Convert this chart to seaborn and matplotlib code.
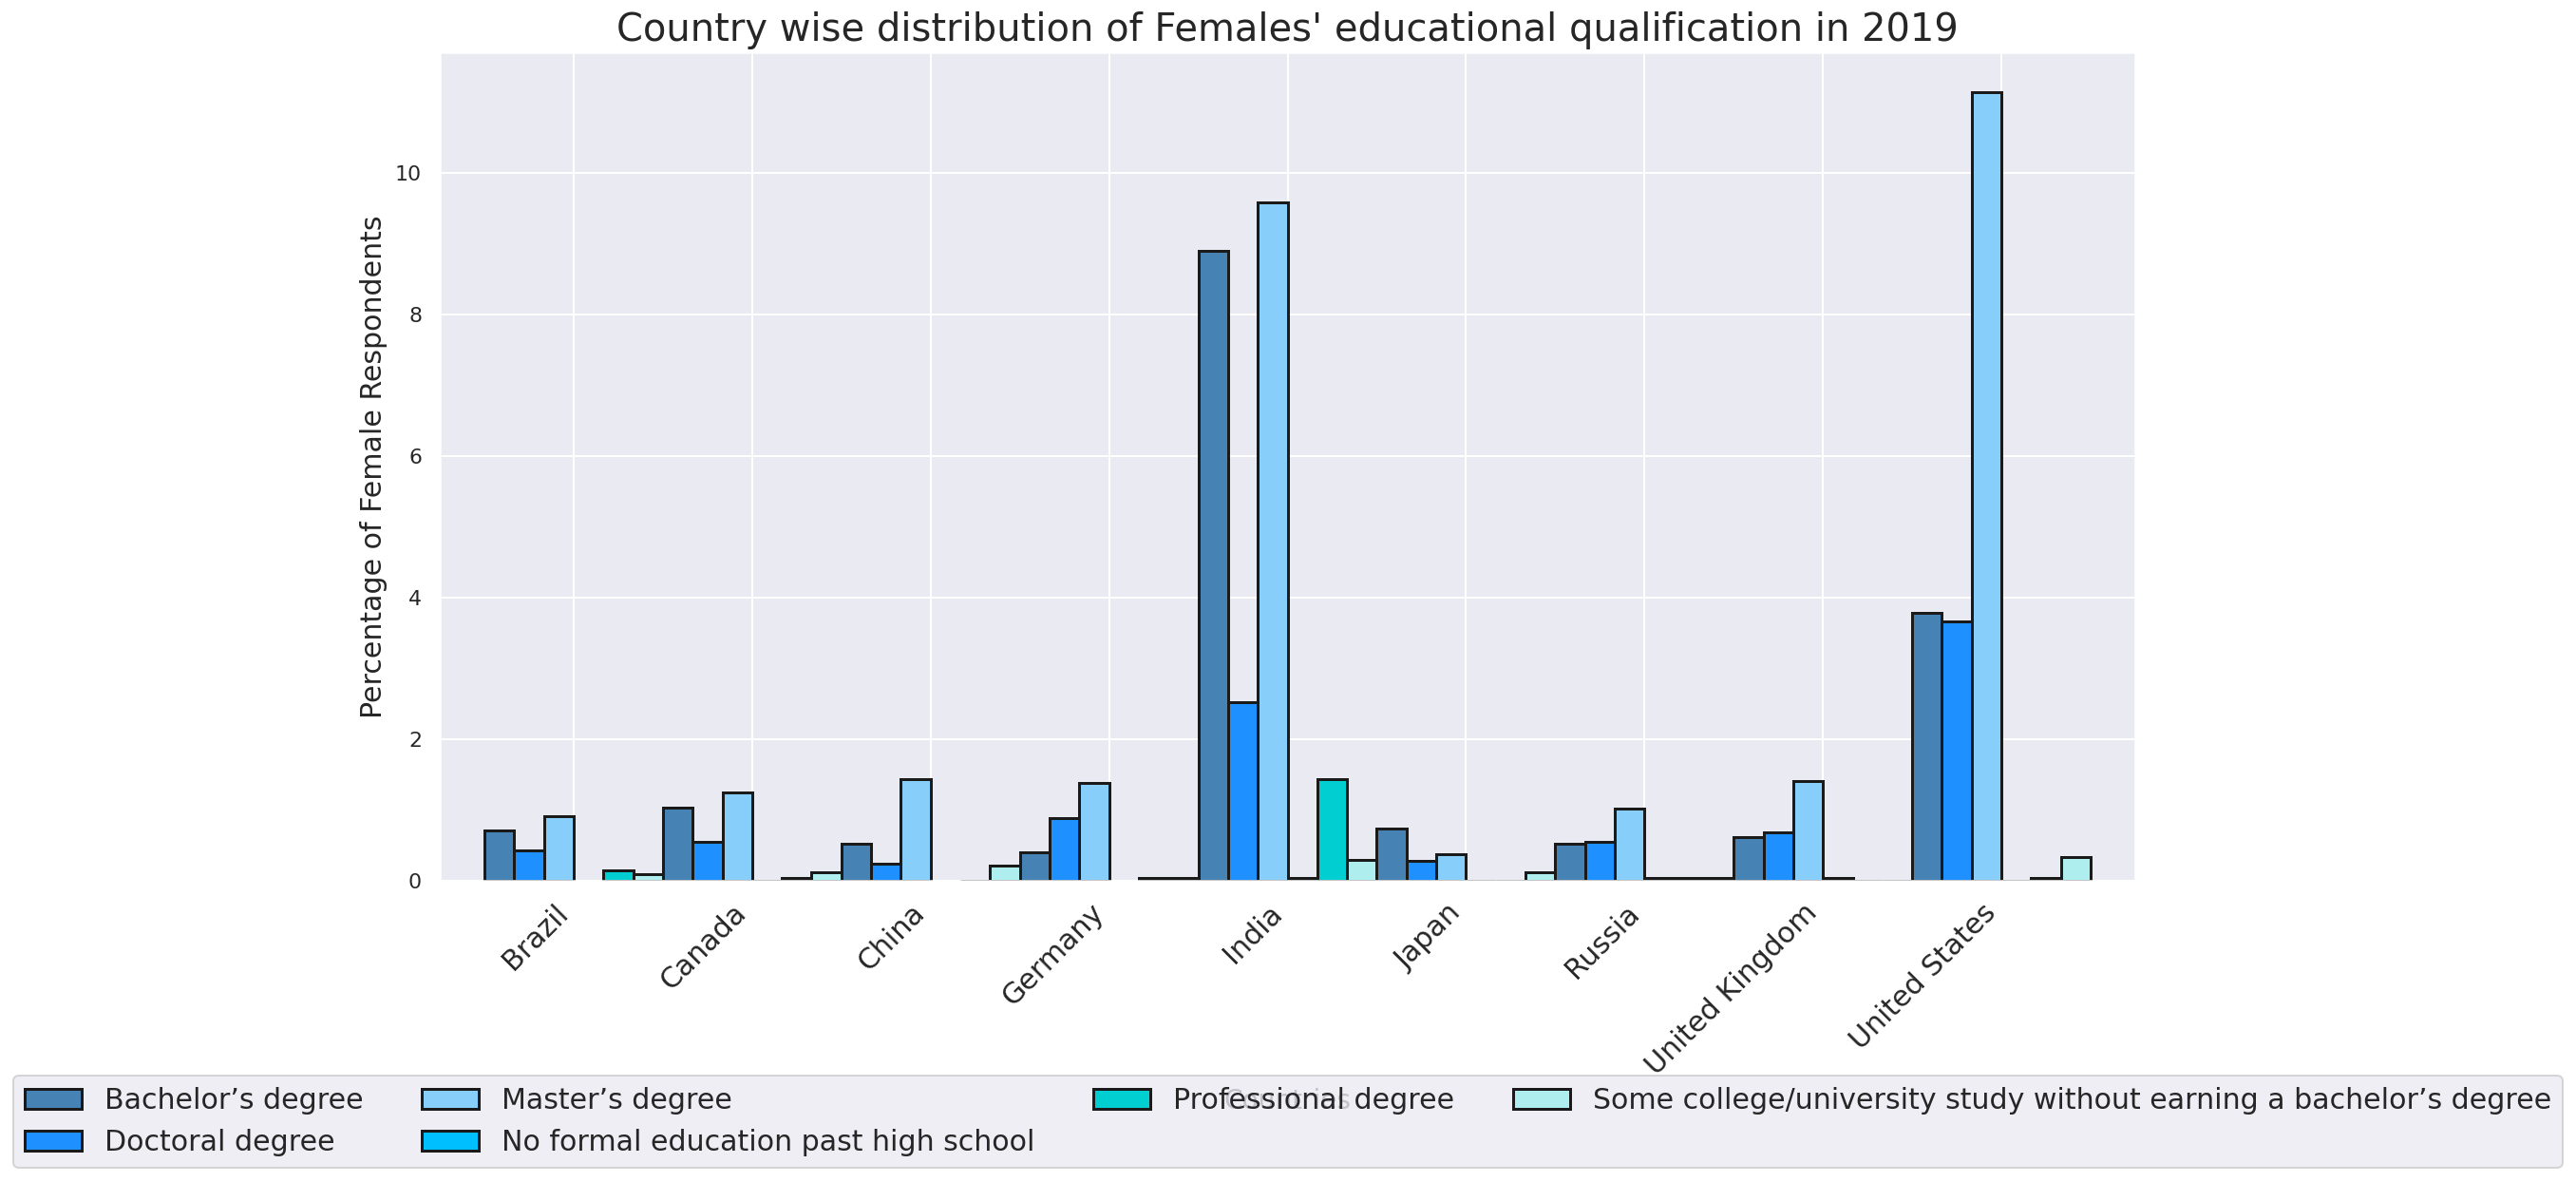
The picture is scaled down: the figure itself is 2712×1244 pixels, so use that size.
import numpy as np
import pandas as pd
import matplotlib.pyplot as plt
import seaborn as sns

countries = ["Brazil", "Canada", "China", "Germany", "India", "Japan",
             "Russia", "United Kingdom", "United States"]
education_levels = [
    "Bachelor\u2019s degree",
    "Doctoral degree",
    "Master\u2019s degree",
    "No formal education past high school",
    "Professional degree",
    "Some college/university study without earning a bachelor\u2019s degree",
]

# percentage of female respondents per country (NaN = no respondents in that group)
bachelors = [0.71, 1.03, 0.52, 0.40, 8.90, 0.74, 0.525, 0.615, 3.79]
doctoral = [0.43, 0.55, 0.24, 0.88, 2.52, 0.28, 0.545, 0.685, 3.67]
masters = [0.91, 1.245, 1.44, 1.38, 9.59, 0.375, 1.02, 1.405, 11.15]
no_formal = [np.nan, 0.0, np.nan, np.nan, 0.04, 0.0, 0.045, 0.045, 0.0]
professional = [0.145, 0.045, 0.0, 0.045, 1.43, 0.0, 0.045, 0.0, 0.045]
some_college = [0.09, 0.12, 0.21, 0.045, 0.30, 0.115, 0.045, 0.0, 0.33]

colors = ["steelblue", "dodgerblue", "lightskyblue", "deepskyblue",
          "darkturquoise", "paleturquoise"]

rows = []
for level, values in zip(education_levels,
                         [bachelors, doctoral, masters, no_formal, professional, some_college]):
    for country, v in zip(countries, values):
        if not np.isnan(v):
            rows.append((country, level, v))
df = pd.DataFrame(rows, columns=["Country", "Education", "Percentage"])

sns.set_theme(style="darkgrid")

W, H, DPI = 2712, 1244, 144
fig = plt.figure(figsize=(W / DPI, H / DPI), dpi=DPI)
ax = fig.add_axes([463 / W, 1 - 927 / H, (2248 - 463) / W, (927 - 55) / H])

sns.barplot(data=df, x="Country", y="Percentage", hue="Education",
            order=countries, hue_order=education_levels, palette=colors,
            saturation=1, width=1, edgecolor="0.1", linewidth=1.5,
            errorbar=None, ax=ax)

ax.xaxis.grid(True)
ax.set_xlim(-0.75, 8.75)
ax.set_title("Country wise distribution of Females' educational qualification in 2019", fontsize=20)
ax.set_ylabel("Percentage of Female Respondents", fontsize=15)
ax.set_xlabel("Countries", fontsize=14)
ax.tick_params(axis="x", labelsize=15, labelrotation=45)
plt.setp(ax.get_xticklabels(), ha="right")

old = ax.get_legend()
handles = old.legend_handles
labels = [t.get_text() for t in old.get_texts()]
old.remove()
ax.legend(handles, labels, loc="lower left", ncol=4, mode="expand", fontsize=15,
          bbox_to_anchor=(14 / W, 15 / H, (W - 28) / W, 0),
          bbox_transform=fig.transFigure, borderaxespad=0)

fig.savefig("out.png", dpi=DPI)
